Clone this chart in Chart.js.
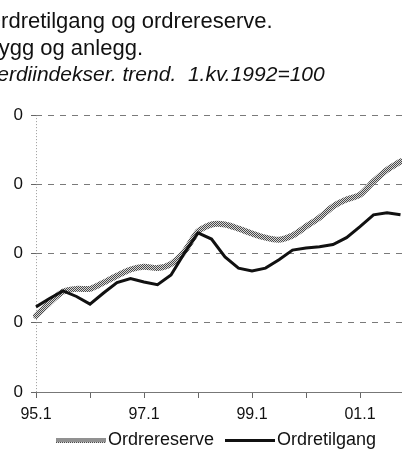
<!DOCTYPE html>
<html>
<head>
<meta charset="utf-8">
<script src="https://cdn.jsdelivr.net/npm/chart.js@4/dist/chart.umd.min.js"></script>
<style>
  html, body { margin: 0; padding: 0; background: #ffffff; overflow: hidden; }
  body { width: 402px; height: 454px; position: relative; }
  #wrap { position: absolute; left: -16px; top: 0; width: 464px; height: 454px; }
</style>
</head>
<body>
<div id="wrap"><canvas id="c" width="464" height="454"></canvas></div>
<script>
// ---- data ----
const quarters = ['95.1','95.2','95.3','95.4','96.1','96.2','96.3','96.4',
                  '97.1','97.2','97.3','97.4','98.1','98.2','98.3','98.4',
                  '99.1','99.2','99.3','99.4','00.1','00.2','00.3','00.4',
                  '01.1','01.2','01.3','01.4','02.1','02.2','02.3'];
const xTickLabels = ['95.1','97.1','99.1','01.1'];
const xTickMarks = ['95.1','96.1','97.1','98.1','99.1','00.1','01.1','02.1'];
const ordrereserve = [105, 114.5, 122.5, 124.5, 124.5, 129, 134, 138.5,
                      140.5, 139.5, 142.5, 151.5, 166, 171, 171, 168,
                      164.5, 161.5, 160, 163, 169.5, 176, 184, 189,
                      192.5, 202, 210.5, 216.5];
const ordretilgang = [111.5, 117.5, 123, 119, 113.5, 121.5, 129, 132,
                      129.5, 127.5, 134.5, 150.5, 165, 160.5, 147.5, 139.5,
                      137.5, 139.5, 145.5, 152.5, 154, 155, 156.5, 161.5,
                      169.5, 178, 179.5, 178];
const yTickValues = [50, 100, 150, 200, 250];
const yTickLabels = ['0', '0', '0', '0', '0'];   // only the last digit is visible in the cropped original
const titleLines = ['Ordretilgang og ordrereserve.', 'Bygg og anlegg.'];
const subtitleText = 'Verdiindekser. trend.  1.kv.1992=100';
const seriesNames = ['Ordrereserve', 'Ordretilgang'];

// ---- textures ----
function makeChecker() {
  const p = document.createElement('canvas');
  p.width = 2; p.height = 2;
  const g = p.getContext('2d');
  g.fillStyle = '#d8d8d8'; g.fillRect(0, 0, 2, 2);
  g.fillStyle = '#4a4a4a'; g.fillRect(0, 0, 1, 1); g.fillRect(1, 1, 1, 1);
  return p;
}
const checkerCanvas = makeChecker();
const ctx = document.getElementById('c').getContext('2d');
const grayPattern = ctx.createPattern(checkerCanvas, 'repeat');

// legend sample: 64px image, the drawn stroke sits in its right-hand 50px
function legendSample(fill, h) {
  const c = document.createElement('canvas');
  c.width = 64; c.height = h;
  const g = c.getContext('2d');
  g.fillStyle = fill === 'pattern' ? g.createPattern(checkerCanvas, 'repeat') : fill;
  g.fillRect(14, 0, 50, h);
  return c;
}
const sampleGray = legendSample('pattern', 5);
const sampleBlack = legendSample('#111111', 3);

const FONT = '"Liberation Sans", Arial, Helvetica, sans-serif';

new Chart(ctx, {
  type: 'line',
  data: {
    labels: quarters,
    datasets: [
      {
        label: seriesNames[0],
        data: ordrereserve,
        borderColor: grayPattern,
        backgroundColor: grayPattern,
        borderWidth: 6,
        pointRadius: 0,
        tension: 0.25,
        borderCapStyle: 'round',
        order: 1
      },
      {
        label: seriesNames[1],
        data: ordretilgang,
        borderColor: '#111111',
        backgroundColor: '#111111',
        borderWidth: 3,
        pointRadius: 0,
        tension: 0,
        borderJoinStyle: 'miter',
        order: 0
      }
    ]
  },
  options: {
    responsive: false,
    animation: false,
    devicePixelRatio: 1,
    layout: { padding: { left: 0, right: 7, top: 0, bottom: -5 } },
    plugins: {
      tooltip: { enabled: false },
      title: {
        display: true,
        text: titleLines,
        align: 'start',
        color: '#111111',
        font: { family: FONT, size: 22, weight: 'normal', lineHeight: 1.23 },
        padding: { top: 8, bottom: 0 }
      },
      subtitle: {
        display: true,
        text: subtitleText,
        align: 'start',
        color: '#111111',
        font: { family: FONT, size: 21, style: 'italic', weight: 'normal', lineHeight: 1.286 },
        padding: { top: 0, bottom: 26 }
      },
      legend: {
        position: 'bottom',
        labels: {
          color: '#111111',
          font: { family: FONT, size: 18 },
          usePointStyle: true,
          pointStyleWidth: 50,
          padding: 4,
          sort: (a, b) => a.datasetIndex - b.datasetIndex,
          generateLabels: (chart) => {
            const items = Chart.defaults.plugins.legend.labels.generateLabels(chart);
            items.forEach(it => {
              it.pointStyle = it.datasetIndex === 0 ? sampleGray : sampleBlack;
            });
            return items;
          }
        }
      }
    },
    scales: {
      x: {
        type: 'category',
        offset: false,
        afterFit: (s) => { s.height = 35; },
        border: { display: true, color: '#777777', width: 1, dash: [1, 2] },
        grid: {
          drawOnChartArea: true,
          drawTicks: true,
          tickLength: 6,
          color: (c) => c.index === 0 ? '#9a9a9a' : 'rgba(0,0,0,0)',
          tickColor: (c) => xTickMarks.includes(quarters[c.index]) ? '#666666' : 'rgba(0,0,0,0)',
          tickBorderDash: []
        },
        ticks: {
          autoSkip: false,
          maxRotation: 0,
          padding: 7,
          color: '#111111',
          font: { family: FONT, size: 16 },
          callback: function(v, i) {
            const l = quarters[i];
            return xTickLabels.includes(l) ? l : '';
          }
        }
      },
      y: {
        min: 50,
        max: 250,
        afterFit: (s) => { s.width = 52; },
        afterBuildTicks: (s) => { s.ticks = yTickValues.map(v => ({ value: v })); },
        border: { display: false, dash: [6, 6] },
        grid: {
          drawTicks: true,
          tickLength: 5,
          color: (c) => (c.tick && c.tick.value === 50) ? 'rgba(0,0,0,0)' : '#7a7a7a',
          tickColor: '#666666',
          tickBorderDash: [],
          lineWidth: 1
        },
        ticks: {
          padding: 8,
          color: '#111111',
          font: { family: FONT, size: 17 },
          callback: function(v, i) { return yTickLabels[i]; }
        }
      }
    }
  }
});
</script>
</body>
</html>
